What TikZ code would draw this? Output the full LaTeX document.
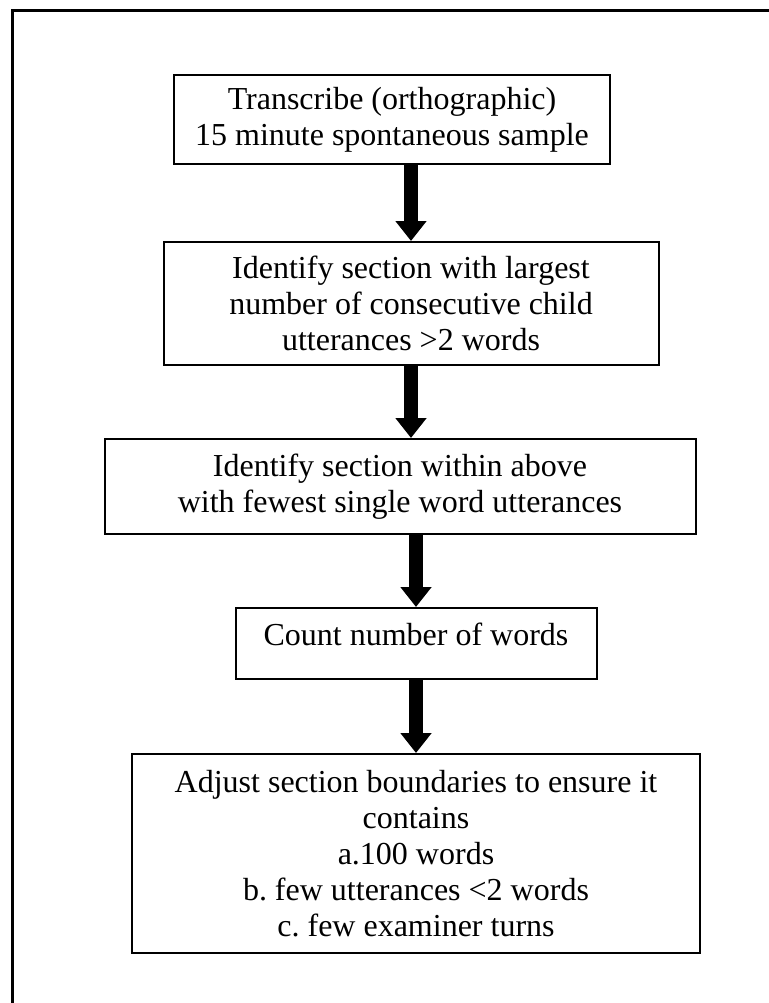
\documentclass[tikz,border=0pt]{standalone}
\usepackage{fontspec}
\setmainfont{Liberation Serif}
\usetikzlibrary{arrows.meta,positioning}
\frenchspacing

\begin{document}
\begin{tikzpicture}[
  x=0.5pt, y=-0.5pt,
  box/.style={rectangle, draw, line width=1pt, align=center, inner sep=0pt,
    font=\fontsize{16}{18}\selectfont},
  arr/.style={-{Triangle[width=15pt,length=10pt]}, line width=7pt}
]
\useasboundingbox (0,0) rectangle (769,1003);
\draw[line width=1.5pt] (769,10) -- (12,10) -- (12,1003);

\node[box, minimum width=218pt, minimum height=44.5pt] (transcribe) at (392,119.5)
  {Transcribe (orthographic)\\15 minute spontaneous sample};
\node[box, minimum width=247.5pt, minimum height=61.5pt, below=38pt of transcribe, xshift=9.5pt] (largest)
  {Identify section with largest\\number of consecutive child\\utterances >2 words};
\node[box, minimum width=295.5pt, minimum height=47.5pt, below=36pt of largest, xshift=-5.5pt] (fewest)
  {Identify section within above\\with fewest single word utterances};
\node[box, minimum width=180.5pt, minimum height=35.5pt, text depth=9pt, below=36pt of fewest, xshift=8pt] (count)
  {Count number of words};
\node[box, minimum width=284pt, minimum height=99.5pt, below=36.5pt of count] (adjust)
  {Adjust section boundaries to ensure it\\contains\\a.100 words\\b. few utterances <2 words\\c. few examiner turns};

\draw[arr] (transcribe.south -| largest.north) -- (largest.north);
\draw[arr] (largest.south) -- (fewest.north -| largest.south);
\draw[arr] (fewest.south -| count.north) -- (count.north);
\draw[arr] (count.south) -- (adjust.north -| count.south);
\end{tikzpicture}
\end{document}
